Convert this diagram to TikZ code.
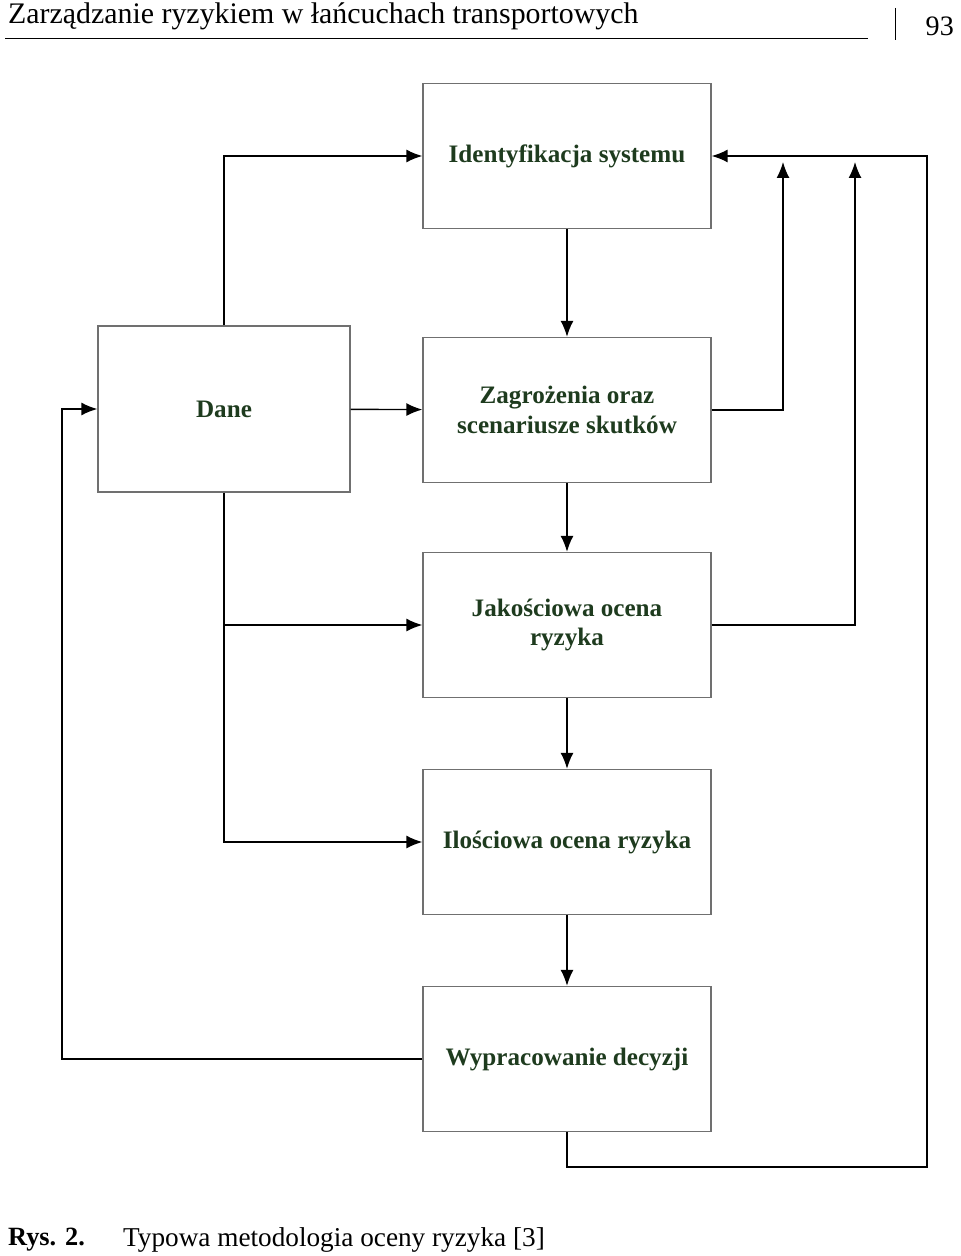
\documentclass[tikz,border=0pt]{standalone}
\usepackage{fontspec}
\setmainfont{Liberation Serif}
\usetikzlibrary{arrows.meta}
\definecolor{boxtext}{HTML}{1E3B1E}
\definecolor{boxline}{HTML}{707070}
\tikzset{
  stage/.style={draw=boxline,thick,minimum width=5.76cm,minimum height=2.9cm,align=center,
    font=\fontsize{14.3}{17}\selectfont\bfseries,text=boxtext},
  flow/.style={thick,-{Latex[length=3.2mm,width=2.6mm]}},
  line/.style={thick}
}
\begin{document}
\begin{tikzpicture}[x=0.02cm,y=-0.02cm]
  \useasboundingbox (0,0) rectangle (960,1256);
  % header and caption
  \node[anchor=west,font=\fontsize{17}{18}\selectfont] (head) at (2,16) {Zarządzanie ryzykiem w łańcuchach transportowych};
  \draw[thin] (5,38) -- (868,38);
  \draw[thin] (895,8) -- (895,40);
  \node[anchor=east,font=\fontsize{16}{18}\selectfont] (page) at (960,26) {93};
  \node[anchor=west,font=\fontsize{15}{16}\selectfont\bfseries] (rys) at (2,1240) {Rys. 2.};
  \node[anchor=west,font=\fontsize{15.5}{16}\selectfont] (cap) at (117,1240) {Typowa metodologia oceny ryzyka [3]};
  % boxes
  \node[stage] (ident) at (567,156) {Identyfikacja systemu};
  \node[stage,minimum width=5.04cm,minimum height=3.32cm] (dane) at (224,409) {Dane};
  \node[stage] (zagr) at (567,410) {Zagrożenia oraz\\scenariusze skutków};
  \node[stage] (jak) at (567,625) {Jakościowa ocena\\ryzyka};
  \node[stage] (ilo) at (567,842) {Ilościowa ocena ryzyka};
  \node[stage] (wyp) at (567,1059) {Wypracowanie decyzji};
  % corners of the feedback lines
  \coordinate (up1) at (783,162);
  \coordinate (up2) at (855,162);
  % main flow
  \draw[flow] (ident) -- (zagr);
  \draw[flow] (zagr) -- (jak);
  \draw[flow] (jak) -- (ilo);
  \draw[flow] (ilo) -- (wyp);
  \draw[flow] (dane) -- (zagr);
  \draw[flow] (dane.north) |- (ident.west);
  \draw[flow] (dane.south) |- (ilo.west);
  \draw[flow] (224,625) -- (jak.west);
  % feedback
  \draw[flow] (zagr.east) -| (up1);
  \draw[flow] (jak.east) -| (up2);
  \draw[flow] (wyp.south) -- (567,1167) -- (927,1167) |- (ident.east);
  \draw[flow] (wyp.west) -- (62,1059) |- (dane.west);
\end{tikzpicture}
\end{document}
